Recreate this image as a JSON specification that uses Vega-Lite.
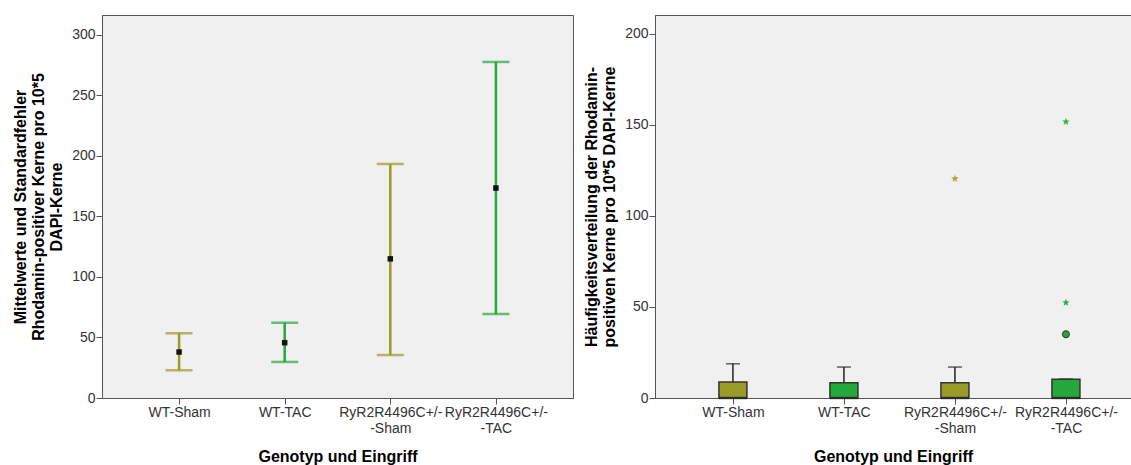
{
  "$schema": "https://vega.github.io/schema/vega-lite/v6.json",
  "background": "white",
  "padding": {"left": 12, "top": 14, "right": 0, "bottom": 0},
  "spacing": 9,
  "config": {
    "view": {"fill": "#f0f0f0", "stroke": "#555555"},
    "axis": {
      "domainColor": "#555555", "tickColor": "#555555", "tickSize": 6,
      "labelColor": "#333333", "labelFontSize": 14,
      "titleFontSize": 16, "titleColor": "#000000",
      "grid": false
    }
  },
  "hconcat": [
    {
      "width": 471,
      "height": 383,
      "data": {"values": [
        {"gruppe": "WT-Sham", "eingriff": "Sham", "mittel": 38, "unten": 22.9, "oben": 53.5},
        {"gruppe": "WT-TAC", "eingriff": "TAC", "mittel": 45.7, "unten": 29.8, "oben": 62.2},
        {"gruppe": "RyR2R4496C+/--Sham", "eingriff": "Sham", "mittel": 115, "unten": 35.5, "oben": 193.4},
        {"gruppe": "RyR2R4496C+/--TAC", "eingriff": "TAC", "mittel": 173.5, "unten": 69.4, "oben": 277.7}
      ]},
      "layer": [
        {
          "mark": {"type": "rule", "strokeWidth": 2.5},
          "encoding": {
            "x": {
              "field": "gruppe", "type": "nominal",
              "sort": ["WT-Sham", "WT-TAC", "RyR2R4496C+/--Sham", "RyR2R4496C+/--TAC"],
              "scale": {"type": "point", "padding": 0.73},
              "axis": {
                "title": "Genotyp und Eingriff", "labelAngle": 0, "labelPadding": 1, "titlePadding": 13,
                "labelExpr": "datum.label == 'RyR2R4496C+/--Sham' ? ['RyR2R4496C+/-', '-Sham'] : datum.label == 'RyR2R4496C+/--TAC' ? ['RyR2R4496C+/-', '-TAC'] : datum.label"
              }
            },
            "y": {
              "field": "unten", "type": "quantitative",
              "scale": {"domain": [0, 316.5], "nice": false},
              "axis": {
                "values": [0, 50, 100, 150, 200, 250, 300],
                "labelPadding": 1, "titlePadding": 7,
                "title": ["Mittelwerte und Standardfehler", "Rhodamin-positiver Kerne pro 10*5", "DAPI-Kerne"]
              }
            },
            "y2": {"field": "oben"},
            "color": {"field": "eingriff", "type": "nominal", "scale": {"domain": ["Sham", "TAC"], "range": ["#9a9a28", "#24a83c"]}, "legend": null}
          }
        },
        {
          "mark": {"type": "tick", "size": 27, "thickness": 2.5},
          "encoding": {
            "x": {"field": "gruppe", "type": "nominal", "sort": ["WT-Sham", "WT-TAC", "RyR2R4496C+/--Sham", "RyR2R4496C+/--TAC"]},
            "y": {"field": "unten", "type": "quantitative"},
            "color": {"field": "eingriff", "type": "nominal", "legend": null}
          }
        },
        {
          "mark": {"type": "tick", "size": 27, "thickness": 2.5},
          "encoding": {
            "x": {"field": "gruppe", "type": "nominal", "sort": ["WT-Sham", "WT-TAC", "RyR2R4496C+/--Sham", "RyR2R4496C+/--TAC"]},
            "y": {"field": "oben", "type": "quantitative"},
            "color": {"field": "eingriff", "type": "nominal", "legend": null}
          }
        },
        {
          "mark": {"type": "point", "shape": "square", "filled": true, "size": 30, "color": "#111111", "opacity": 1},
          "encoding": {
            "x": {"field": "gruppe", "type": "nominal", "sort": ["WT-Sham", "WT-TAC", "RyR2R4496C+/--Sham", "RyR2R4496C+/--TAC"]},
            "y": {"field": "mittel", "type": "quantitative"}
          }
        }
      ]
    },
    {
      "width": 476,
      "height": 383,
      "data": {"values": [
        {"gruppe": "WT-Sham", "eingriff": "Sham", "q1": 0, "median": 0, "q3": 8.8, "whisker": 18.8, "extrem_sham": null, "extrem_tac_a": null, "extrem_tac_b": null, "ausreisser_tac": null},
        {"gruppe": "WT-TAC", "eingriff": "TAC", "q1": 0, "median": 0, "q3": 8.4, "whisker": 17, "extrem_sham": null, "extrem_tac_a": null, "extrem_tac_b": null, "ausreisser_tac": null},
        {"gruppe": "RyR2R4496C+/--Sham", "eingriff": "Sham", "q1": 0, "median": 0, "q3": 8.4, "whisker": 17, "extrem_sham": 120.5, "extrem_tac_a": null, "extrem_tac_b": null, "ausreisser_tac": null},
        {"gruppe": "RyR2R4496C+/--TAC", "eingriff": "TAC", "q1": 0, "median": 0, "q3": 10.3, "whisker": 10.4, "extrem_sham": null, "extrem_tac_a": 151.8, "extrem_tac_b": 52.4, "ausreisser_tac": 35}
      ]},
      "layer": [
        {
          "mark": {"type": "rule", "color": "#222222", "strokeWidth": 1.5},
          "encoding": {
            "x": {
              "field": "gruppe", "type": "nominal",
              "sort": ["WT-Sham", "WT-TAC", "RyR2R4496C+/--Sham", "RyR2R4496C+/--TAC"],
              "scale": {"type": "point", "padding": 0.644, "align": 0.545},
              "axis": {
                "title": "Genotyp und Eingriff", "labelAngle": 0, "labelPadding": 1, "titlePadding": 13,
                "labelExpr": "datum.label == 'RyR2R4496C+/--Sham' ? ['RyR2R4496C+/-', '-Sham'] : datum.label == 'RyR2R4496C+/--TAC' ? ['RyR2R4496C+/-', '-TAC'] : datum.label"
              }
            },
            "y": {
              "field": "q3", "type": "quantitative",
              "scale": {"domain": [0, 210.4], "nice": false},
              "axis": {
                "values": [0, 50, 100, 150, 200],
                "labelPadding": 1, "titlePadding": 7,
                "title": ["Häufigkeitsverteilung der Rhodamin-", "positiven Kerne pro 10*5 DAPI-Kerne"]
              }
            },
            "y2": {"field": "whisker"}
          }
        },
        {
          "mark": {"type": "tick", "size": 14, "thickness": 1.5, "color": "#222222"},
          "encoding": {
            "x": {"field": "gruppe", "type": "nominal", "sort": ["WT-Sham", "WT-TAC", "RyR2R4496C+/--Sham", "RyR2R4496C+/--TAC"]},
            "y": {"field": "whisker", "type": "quantitative"}
          }
        },
        {
          "mark": {"type": "bar", "width": 28, "stroke": "#333333", "strokeWidth": 1.5},
          "encoding": {
            "x": {"field": "gruppe", "type": "nominal", "sort": ["WT-Sham", "WT-TAC", "RyR2R4496C+/--Sham", "RyR2R4496C+/--TAC"]},
            "y": {"field": "q1", "type": "quantitative"},
            "y2": {"field": "q3"},
            "color": {"field": "eingriff", "type": "nominal", "scale": {"domain": ["Sham", "TAC"], "range": ["#9a9a28", "#24a83c"]}, "legend": null}
          }
        },
        {
          "mark": {"type": "tick", "size": 28, "thickness": 2.5, "color": "#222222"},
          "encoding": {
            "x": {"field": "gruppe", "type": "nominal", "sort": ["WT-Sham", "WT-TAC", "RyR2R4496C+/--Sham", "RyR2R4496C+/--TAC"]},
            "y": {"field": "median", "type": "quantitative"}
          }
        },
        {
          "mark": {"type": "point", "shape": "M0,-1L0.235,-0.324L0.951,-0.309L0.38,0.124L0.588,0.809L0,0.4L-0.588,0.809L-0.38,0.124L-0.951,-0.309L-0.235,-0.324Z", "filled": true, "size": 64, "color": "#a8a83c", "opacity": 1},
          "encoding": {
            "x": {"field": "gruppe", "type": "nominal", "sort": ["WT-Sham", "WT-TAC", "RyR2R4496C+/--Sham", "RyR2R4496C+/--TAC"]},
            "y": {"field": "extrem_sham", "type": "quantitative"}
          }
        },
        {
          "mark": {"type": "point", "shape": "M0,-1L0.235,-0.324L0.951,-0.309L0.38,0.124L0.588,0.809L0,0.4L-0.588,0.809L-0.38,0.124L-0.951,-0.309L-0.235,-0.324Z", "filled": true, "size": 64, "color": "#2fb04a", "opacity": 1},
          "encoding": {
            "x": {"field": "gruppe", "type": "nominal", "sort": ["WT-Sham", "WT-TAC", "RyR2R4496C+/--Sham", "RyR2R4496C+/--TAC"]},
            "y": {"field": "extrem_tac_a", "type": "quantitative"}
          }
        },
        {
          "mark": {"type": "point", "shape": "M0,-1L0.235,-0.324L0.951,-0.309L0.38,0.124L0.588,0.809L0,0.4L-0.588,0.809L-0.38,0.124L-0.951,-0.309L-0.235,-0.324Z", "filled": true, "size": 64, "color": "#2fb04a", "opacity": 1},
          "encoding": {
            "x": {"field": "gruppe", "type": "nominal", "sort": ["WT-Sham", "WT-TAC", "RyR2R4496C+/--Sham", "RyR2R4496C+/--TAC"]},
            "y": {"field": "extrem_tac_b", "type": "quantitative"}
          }
        },
        {
          "mark": {"type": "point", "shape": "M1,0A1,1,0,1,1,-1,0A1,1,0,1,1,1,0Z", "filled": true, "size": 64, "color": "#333333", "opacity": 1},
          "encoding": {
            "x": {"field": "gruppe", "type": "nominal", "sort": ["WT-Sham", "WT-TAC", "RyR2R4496C+/--Sham", "RyR2R4496C+/--TAC"]},
            "y": {"field": "ausreisser_tac", "type": "quantitative"}
          }
        },
        {
          "mark": {"type": "point", "shape": "M1,0A1,1,0,1,1,-1,0A1,1,0,1,1,1,0Z", "filled": true, "size": 36, "color": "#24a83c", "opacity": 1},
          "encoding": {
            "x": {"field": "gruppe", "type": "nominal", "sort": ["WT-Sham", "WT-TAC", "RyR2R4496C+/--Sham", "RyR2R4496C+/--TAC"]},
            "y": {"field": "ausreisser_tac", "type": "quantitative"}
          }
        }
      ]
    }
  ]
}
